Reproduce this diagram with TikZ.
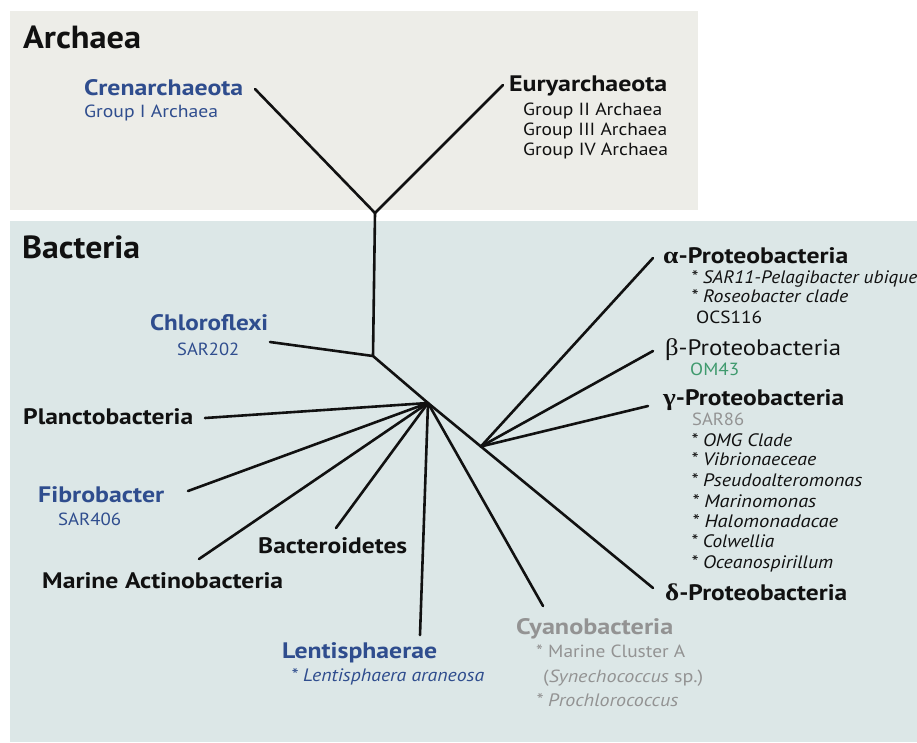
\documentclass[tikz,border=0pt]{standalone}
\usepackage{fontspec}
\usetikzlibrary{calc}
\setmainfont{PT Sans}
\newfontfamily\grk{Liberation Serif}
\definecolor{archbg}{HTML}{EDEDE8}
\definecolor{bactbg}{HTML}{DCE7E7}
\definecolor{tblue}{HTML}{2F4D8E}
\definecolor{tgray}{HTML}{939393}
\definecolor{tgreen}{HTML}{3F9A6E}
\definecolor{tblack}{HTML}{111111}
\tikzset{
  domtitle/.style={font=\fontsize{32}{36}\selectfont\bfseries, anchor=base west, inner sep=0pt, text=tblack},
  phylum/.style={font=\fontsize{22.4}{26}\selectfont\bfseries, anchor=base west, inner sep=0pt, text=tblack},
  phylumreg/.style={font=\fontsize{22.4}{26}\selectfont, anchor=base west, inner sep=0pt, text=tblack},
  member/.style={font=\fontsize{17.6}{20}\selectfont, anchor=base west, inner sep=0pt, text=tblack},
  itmember/.style={font=\fontsize{18}{20}\selectfont\itshape, anchor=base west, inner sep=0pt, text=tblack},
  branch/.style={line width=2.6pt, draw=tblack, line cap=round},
}
\newcommand{\gk}[1]{{\grk\fontsize{24}{26}\selectfont #1}}
\newcommand{\fw}[2]{\resizebox{#1pt}{\height}{#2}}
\begin{document}
\begin{tikzpicture}[x=1pt,y=-1pt]
\useasboundingbox (0,0) rectangle (917,742);
\fill[archbg] (10,11) rectangle (698,210);
\fill[bactbg] (10,221) rectangle (917,742);

% tree coordinates
\coordinate (A) at (375,213);
\coordinate (crenE) at (255,89);
\coordinate (euryE) at (503,85);
\coordinate (R) at (373,356);
\coordinate (chlE) at (270,342);
\coordinate (H) at (428,403);
\coordinate (plaE) at (205,418);
\coordinate (fibE) at (188,491);
\coordinate (actE) at (199,559);
\coordinate (bctE) at (336,528);
\coordinate (lenE) at (420,635);
\coordinate (cyaE) at (543,606);
\coordinate (delE) at (653,588);
\coordinate (P) at ($(H)!0.235!(delE)$);
\coordinate (alpE) at (653,258);
\coordinate (betE) at (653,351);
\coordinate (gamE) at (648,406);

\draw[branch] (crenE) -- (A) -- (euryE);
\draw[branch] (A) -- (R);
\draw[branch] (chlE) -- (R) -- (H);
\draw[branch] (H) -- (plaE);
\draw[branch] (H) -- (fibE);
\draw[branch] (H) -- (actE);
\draw[branch] (H) -- (bctE);
\draw[branch] (H) -- (lenE);
\draw[branch] (H) -- (cyaE);
\draw[branch] (H) -- (delE);
\draw[branch] (P) -- (alpE);
\draw[branch] (P) -- (betE);
\draw[branch] (P) -- (gamE);

% Archaea
\node[domtitle] (archaea) at (23,48) {\fw{118}{Archaea}};
\node[phylum, text=tblue] (cren) at (84,95) {\fw{159}{Crenarchaeota}};
\node[member, text=tblue] (cren1) at (84,117) {\fw{134}{Group I Archaea}};
\node[phylum] (eury) at (509,91) {\fw{158}{Euryarchaeota}};
\node[member] (eury1) at (523,115) {\fw{139}{Group II Archaea}};
\node[member] (eury2) at (523,135) {\fw{144}{Group III Archaea}};
\node[member] (eury3) at (523,155) {\fw{145}{Group IV Archaea}};

% Bacteria
\node[domtitle] (bacteria) at (22,258) {\fw{118}{Bacteria}};
\node[phylum, text=tblue] (chl) at (150,330) {\fw{118}{Chloroflexi}};
\node[member, text=tblue] (chl1) at (177,355) {\fw{62}{SAR202}};
\node[phylum] (pla) at (23,424) {\fw{170}{Planctobacteria}};
\node[phylum, text=tblue] (fib) at (38,502) {\fw{126}{Fibrobacter}};
\node[member, text=tblue] (fib1) at (58,525) {\fw{63}{SAR406}};
\node[phylum] (bct) at (258,553) {\fw{149}{Bacteroidetes}};
\node[phylum] (act) at (42,588) {\fw{241}{Marine Actinobacteria}};
\node[phylum, text=tblue] (len) at (282,658) {\fw{155}{Lentisphaerae}};
\node[itmember, text=tblue] (len1) at (291,681) {\fw{193}{* Lentisphaera araneosa}};
\node[phylum, text=tgray] (cya) at (516,634) {\fw{157}{Cyanobacteria}};
\node[member, text=tgray] (cya1) at (536,657) {\fw{149}{* Marine Cluster A}};
\node[member, text=tgray] (cya2) at (543,682) {\fw{160}{(\textit{Synechococcus} sp.)}};
\node[itmember, text=tgray] (cya3) at (536,706) {\fw{142}{* Prochlorococcus}};

% Proteobacteria
\node[phylum] (alp) at (663,263) {\fw{185}{\gk{α}-Proteobacteria}};
\node[itmember] (alp1) at (691,283) {\fw{226}{* SAR11-Pelagibacter ubique}};
\node[itmember] (alp2) at (691,302) {\fw{157}{* Roseobacter clade}};
\node[member] (alp3) at (696,323) {\fw{66}{OCS116}};
\node[phylumreg] (bet) at (665,355) {\fw{176}{\gk{β}-Proteobacteria}};
\node[member, text=tgreen] (bet1) at (690,375) {\fw{49}{OM43}};
\node[phylum] (gam) at (663,405) {\fw{181}{\gk{γ}-Proteobacteria}};
\node[member, text=tgray] (gam1) at (692,425) {\fw{52}{SAR86}};
\node[itmember] (gam2) at (691,446) {\fw{101}{* OMG Clade}};
\node[itmember] (gam3) at (691,465) {\fw{125}{* Vibrionaeceae}};
\node[itmember] (gam4) at (691,486) {\fw{171}{* Pseudoalteromonas}};
\node[itmember] (gam5) at (692,507) {\fw{124}{* Marinomonas}};
\node[itmember] (gam6) at (692,527) {\fw{146}{* Halomonadacae}};
\node[itmember] (gam7) at (691,547) {\fw{83}{* Colwellia}};
\node[itmember] (gam8) at (691,568) {\fw{142}{* Oceanospirillum}};
\node[phylum] (del) at (665,600) {\fw{182}{\gk{δ}-Proteobacteria}};
\end{tikzpicture}
\end{document}
